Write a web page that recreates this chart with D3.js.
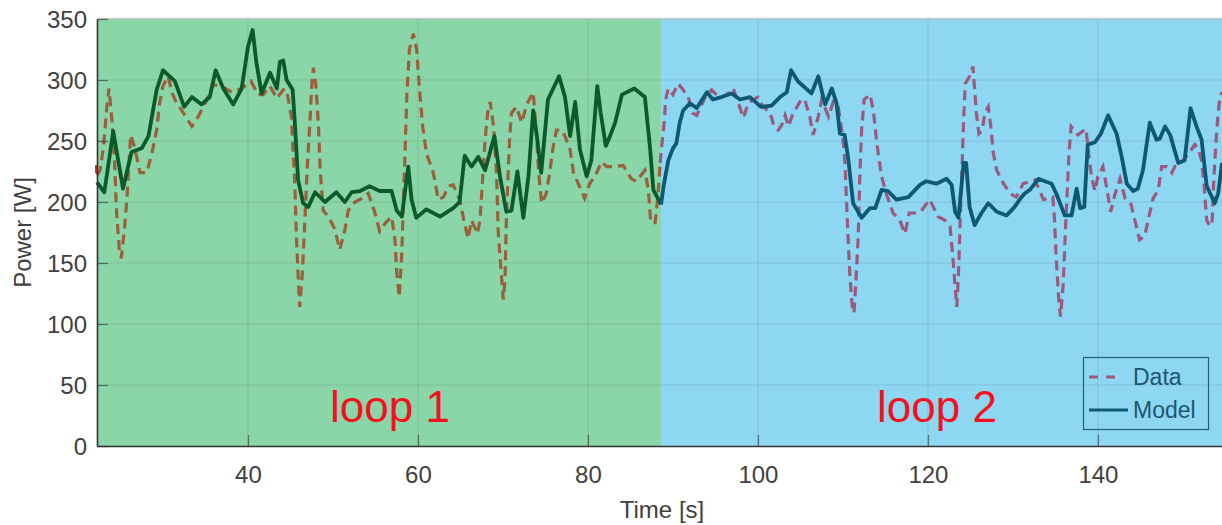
<!DOCTYPE html>
<html>
<head>
<meta charset="utf-8">
<script src="https://cdn.jsdelivr.net/npm/d3@7"></script>
<style>
  html, body { margin: 0; padding: 0; background: #fff; }
  svg { display: block; font-family: "Liberation Sans", Arial, sans-serif; }
</style>
</head>
<body>
<div id="chart"></div>
<script>
// Power vs time, two loops

const xTicks = [40, 60, 80, 100, 120, 140];
const yTicks = [0, 50, 100, 150, 200, 250, 300, 350];
const loopBounds = [22.24, 88.6, 154.6];
const loopLabels = ['loop 1', 'loop 2'];
const legendLabels = ['Data', 'Model'];
const startMarker = 227;

// [time, power]
const modelLoop1 = [[22.24,216],[23.1,208],[24.15,258],[25.3,211],[26.3,241],[27.5,244],[28.3,254],[29.26,292],[30.0,308],[31.4,299],[32.5,278],[33.4,286],[34.55,280],[35.5,286],[36.2,308],[37.1,293],[38.27,280],[39.26,293],[40.0,327],[40.55,341],[41.0,314],[41.6,289],[42.6,306],[43.4,293],[43.76,315],[44.15,316],[44.55,300],[45.26,292],[45.5,267],[45.9,218],[46.5,199],[47.1,196],[47.9,208],[49.06,200],[50.4,208],[51.4,200],[52.2,208],[53.2,209],[54.3,213],[55.5,209],[56.9,209],[57.5,193],[58.1,188],[58.86,229],[59.25,202],[59.8,187],[61.0,194],[62.6,188],[64.15,195],[64.9,200],[65.5,238],[66.3,229],[67.1,237],[67.9,226],[69.0,254],[69.65,221],[70.4,192],[71.0,193],[71.7,225],[72.4,187],[73.0,221],[73.56,275],[73.96,256],[74.5,224],[75.3,284],[76.6,303],[77.3,286],[77.9,254],[78.5,282],[79.06,243],[79.85,221],[80.4,234],[81.1,295],[81.5,273],[82.1,246],[82.6,254],[83.2,265],[84.0,288],[85.45,293],[86.7,286],[87.3,245],[87.7,210],[88.6,198]];

const modelLoop2 = [[88.6,198],[88.9,213],[89.45,234],[90.0,244],[90.4,248],[90.8,265],[91.2,275],[92.0,281],[92.8,277],[94.0,290],[94.7,284],[95.7,286],[96.9,289],[97.9,284],[99.06,286],[100.35,278],[101.6,279],[102.6,286],[103.4,290],[103.9,308],[104.7,299],[106.3,289],[107.1,303],[107.9,280],[108.7,293],[109.25,281],[109.65,256],[110.2,255],[110.6,237],[111.2,199],[112.2,187],[113.2,195],[113.8,195],[114.55,210],[115.3,209],[116.3,202],[117.7,204],[119.06,214],[119.8,217],[121.0,215],[122.2,219],[122.8,214],[123.2,192],[123.6,187],[124.2,232],[124.5,232],[124.9,196],[125.5,181],[126.3,191],[127.1,199],[128.1,192],[129.26,189],[130.2,196],[131.0,204],[131.4,207],[132.0,210],[133.0,219],[134.55,215],[135.1,207],[136.1,189],[136.9,189],[137.5,211],[137.9,195],[138.4,196],[138.8,247],[139.65,249],[140.35,256],[141.2,271],[142.2,256],[142.8,237],[143.4,215],[144.15,209],[144.7,211],[145.3,226],[146.1,265],[146.9,251],[147.3,252],[147.9,262],[148.5,255],[149.45,232],[150.2,234],[150.9,277],[151.6,262],[152.2,251],[152.8,213],[153.76,199],[154.15,207],[154.6,232]];

const dataLoop1 = [[22.24,222],[22.6,226],[23.0,245],[23.4,278],[23.65,293],[24.0,267],[24.3,234],[24.55,191],[24.9,158],[25.1,154],[25.5,180],[25.8,207],[26.2,255],[26.7,244],[27.3,224],[28.1,224],[28.7,240],[29.26,259],[29.6,281],[30.0,295],[30.6,303],[31.1,289],[31.6,281],[32.4,273],[33.4,262],[34.15,270],[34.9,280],[35.9,296],[36.9,295],[38.1,290],[39.25,293],[40.35,299],[41.2,288],[41.8,288],[42.6,295],[43.4,285],[44.15,292],[44.55,292],[45.1,270],[45.5,218],[45.7,172],[46.0,125],[46.1,114],[46.4,142],[46.7,185],[46.98,229],[47.3,267],[47.5,295],[47.7,310],[48.0,295],[48.3,262],[48.5,226],[48.85,193],[49.45,188],[50.2,178],[50.8,161],[51.4,177],[51.8,193],[52.6,200],[53.4,203],[54.15,207],[54.9,192],[55.5,176],[56.2,183],[56.9,188],[57.3,169],[57.5,142],[57.8,122],[58.1,158],[58.3,202],[58.5,245],[58.7,289],[59.0,325],[59.45,338],[59.85,325],[60.15,295],[60.55,262],[61.0,240],[61.8,224],[62.4,202],[63.0,204],[63.6,213],[64.15,214],[64.9,202],[65.5,182],[65.9,170],[66.3,185],[67.0,174],[67.3,185],[67.6,218],[67.9,251],[68.2,273],[68.5,282],[68.9,262],[69.26,221],[69.45,174],[69.8,142],[70.04,120],[70.24,136],[70.4,185],[70.6,221],[70.8,254],[71.0,273],[71.6,278],[72.2,265],[72.8,280],[73.56,290],[73.96,254],[74.2,224],[74.55,199],[75.1,207],[75.5,224],[75.9,245],[76.3,259],[76.9,259],[77.3,254],[77.9,243],[78.3,224],[78.86,215],[79.6,203],[80.2,215],[80.9,222],[81.6,233],[82.2,229],[83.0,229],[84.15,230],[85.1,219],[85.7,217],[86.7,226],[87.1,210],[87.4,183],[87.9,183],[88.2,202],[88.5,232]];

const dataLoop2 = [[88.5,232],[88.76,251],[89.0,267],[89.15,284],[89.45,293],[90.0,288],[90.6,297],[91.2,292],[91.8,286],[92.3,273],[92.8,271],[93.2,277],[93.8,286],[94.55,292],[95.5,285],[96.3,288],[97.1,293],[97.7,281],[98.3,269],[98.86,281],[99.45,284],[100.0,286],[100.6,278],[101.4,274],[101.9,262],[102.4,259],[102.8,263],[103.2,271],[103.6,262],[104.15,273],[104.35,275],[105.1,284],[105.5,284],[106.1,270],[106.5,255],[107.1,270],[107.5,284],[108.3,270],[108.86,282],[109.45,278],[109.8,262],[110.1,245],[110.26,229],[110.4,204],[110.6,172],[110.8,142],[111.1,114],[111.3,109],[111.5,131],[111.8,172],[112.0,224],[112.2,259],[112.5,284],[113.2,288],[113.6,274],[113.9,254],[114.2,237],[114.55,221],[115.1,207],[115.9,191],[116.7,185],[117.3,174],[117.8,191],[118.5,191],[119.25,193],[120.2,202],[121.2,188],[122.0,185],[122.6,180],[122.9,158],[123.2,131],[123.4,114],[123.6,142],[123.8,185],[124.0,226],[124.2,267],[124.4,297],[124.9,303],[125.3,311],[125.5,292],[125.7,273],[126.0,256],[126.4,259],[126.7,273],[127.1,278],[127.4,262],[127.7,240],[128.1,226],[128.9,215],[129.65,207],[130.4,204],[131.2,215],[132.6,218],[133.6,202],[134.15,203],[134.7,204],[134.9,185],[135.1,153],[135.4,120],[135.6,106],[135.9,131],[136.15,172],[136.4,210],[136.6,240],[136.85,262],[137.65,255],[138.6,260],[138.9,240],[139.25,221],[139.65,209],[140.0,221],[140.6,229],[141.0,213],[141.5,192],[142.0,206],[142.6,219],[143.2,203],[143.9,198],[144.35,185],[144.9,169],[145.5,172],[146.1,191],[146.5,203],[147.1,210],[147.5,229],[148.1,229],[148.7,224],[149.25,232],[150.0,234],[150.6,239],[151.4,247],[151.8,244],[152.2,234],[152.5,213],[152.8,185],[153.2,180],[153.45,185],[153.6,213],[153.76,234],[153.96,256],[154.15,273],[154.35,286],[154.6,290]];

const W = 1222, H = 525;
const margin = { top: 19, right: 0, bottom: 79, left: 97 };

const svg = d3.select('#chart').append('svg')
  .attr('width', W)
  .attr('height', H);

const x = d3.scaleLinear()
  .domain([loopBounds[0], loopBounds[2]])
  .range([margin.left, W - margin.right]);

const y = d3.scaleLinear()
  .domain([0, 350])
  .range([H - margin.bottom, margin.top]);

// Loop backgrounds
const bgColors = ['#8bd6a8', '#8dd7f3'];
svg.selectAll('rect.bg')
  .data([0, 1])
  .enter()
  .append('rect')
  .attr('class', 'bg')
  .attr('x', i => x(loopBounds[i]))
  .attr('y', y(350))
  .attr('width', i => x(loopBounds[i + 1]) - x(loopBounds[i]))
  .attr('height', y(0) - y(350))
  .attr('fill', i => bgColors[i]);

// top frame line
svg.append('line')
  .attr('x1', x.range()[0]).attr('x2', x.range()[1])
  .attr('y1', y(350) - 0.5).attr('y2', y(350) - 0.5)
  .attr('stroke', '#d6d6d6')
  .attr('stroke-width', 1.5);

// Grid
const grid = svg.append('g').attr('stroke', '#262626').attr('stroke-opacity', 0.12).attr('stroke-width', 1);
grid.selectAll('line.gx')
  .data(xTicks)
  .enter()
  .append('line')
  .attr('x1', d => x(d)).attr('x2', d => x(d))
  .attr('y1', y(0)).attr('y2', y(350));
grid.selectAll('line.gy')
  .data(yTicks.slice(1))
  .enter()
  .append('line')
  .attr('x1', x.range()[0]).attr('x2', x.range()[1])
  .attr('y1', d => y(d)).attr('y2', d => y(d));

const line = d3.line()
  .x(d => x(d[0]))
  .y(d => y(d[1]));

// Data (dashed)
svg.append('path')
  .datum(dataLoop1)
  .attr('fill', 'none')
  .attr('stroke', '#98603b')
  .attr('stroke-width', 3.2)
  .attr('stroke-dasharray', '10,6')
  .attr('d', line);

svg.append('path')
  .datum(dataLoop2)
  .attr('fill', 'none')
  .attr('stroke', '#9b5a7d')
  .attr('stroke-width', 3.2)
  .attr('stroke-dasharray', '10,6')
  .attr('d', line);

// Model (solid)
svg.append('path')
  .datum(modelLoop1)
  .attr('fill', 'none')
  .attr('stroke', '#0c5a2a')
  .attr('stroke-width', 3.8)
  .attr('stroke-linejoin', 'round')
  .attr('d', line);

svg.append('path')
  .datum(modelLoop2)
  .attr('fill', 'none')
  .attr('stroke', '#0f5873')
  .attr('stroke-width', 3.8)
  .attr('stroke-linejoin', 'round')
  .attr('d', line);

// small red mark at the left edge
svg.append('rect')
  .attr('x', x(loopBounds[0]) - 2)
  .attr('y', y(startMarker) - 4)
  .attr('width', 3)
  .attr('height', 8)
  .attr('fill', '#ff1a1a');

// Axes
const xAxis = svg.append('g')
  .attr('transform', `translate(0,${y(0)})`)
  .call(d3.axisBottom(x).tickValues(xTicks).tickSizeInner(-11).tickSizeOuter(0).tickPadding(20));
const yAxis = svg.append('g')
  .attr('transform', `translate(${x(loopBounds[0])},0)`)
  .call(d3.axisLeft(y).tickValues(yTicks).tickSizeInner(-11).tickSizeOuter(0).tickPadding(10));

[xAxis, yAxis].forEach(g => {
  g.select('.domain').attr('stroke', '#333').attr('stroke-width', 1.6);
  g.selectAll('.tick line').attr('stroke', '#262626').attr('stroke-opacity', 0.55).attr('stroke-width', 1.3);
  g.selectAll('.tick text')
    .attr('fill', '#404040')
    .style('font-size', '24px')
    .style('font-family', '"Liberation Sans", Arial, sans-serif');
});
yAxis.selectAll('.tick text').attr('dy', '0.36em');

// Axis titles
svg.append('text')
  .attr('x', (x.range()[0] + 1227) / 2)
  .attr('y', 518)
  .attr('text-anchor', 'middle')
  .attr('fill', '#404040')
  .style('font-size', '24px')
  .text('Time [s]');

svg.append('text')
  .attr('transform', `translate(31,${(y(0) + y(350)) / 2}) rotate(-90)`)
  .attr('text-anchor', 'middle')
  .attr('fill', '#404040')
  .style('font-size', '24px')
  .text('Power [W]');

// Loop labels
const labelPos = [[390, 422], [937, 422]];
svg.selectAll('text.loop')
  .data(loopLabels)
  .enter()
  .append('text')
  .attr('class', 'loop')
  .attr('x', (d, i) => labelPos[i][0])
  .attr('y', (d, i) => labelPos[i][1])
  .attr('text-anchor', 'middle')
  .attr('fill', '#f5101e')
  .style('font-size', '44px')
  .text(d => d);

// Legend
const legend = svg.append('g');
legend.append('rect')
  .attr('x', 1083.5).attr('y', 357.5)
  .attr('width', 125).attr('height', 72)
  .attr('fill', 'none')
  .attr('stroke', '#1f5f78')
  .attr('stroke-width', 1.2);

const legendStyles = [
  { color: '#9b5a7d', dash: '9,8', x2: 1121 },
  { color: '#0f5873', dash: null, x2: 1128 }
];
legendLabels.forEach((label, i) => {
  const ly = 377 + i * 33;
  legend.append('line')
    .attr('x1', 1089).attr('x2', legendStyles[i].x2)
    .attr('y1', ly).attr('y2', ly)
    .attr('stroke', legendStyles[i].color)
    .attr('stroke-width', 3.2)
    .attr('stroke-dasharray', legendStyles[i].dash);
  legend.append('text')
    .attr('x', 1133)
    .attr('y', ly)
    .attr('dy', '0.36em')
    .attr('fill', '#1d5670')
    .style('font-size', '23px')
    .text(label);
});
</script>
</body>
</html>
